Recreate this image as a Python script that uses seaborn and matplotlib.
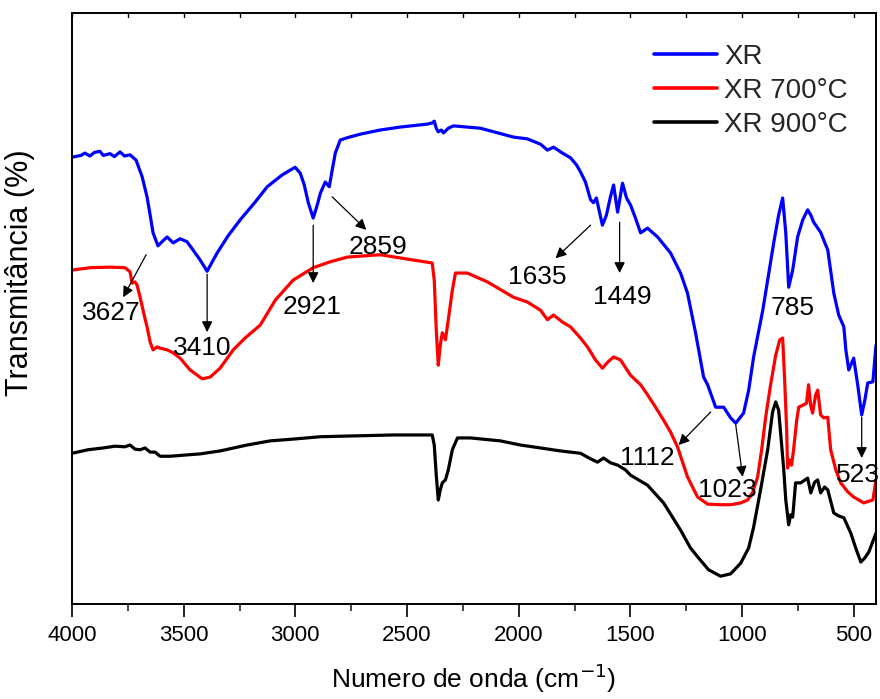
import matplotlib
matplotlib.use("Agg")
import matplotlib.pyplot as plt
import seaborn as sns
import pandas as pd
import numpy as np
from matplotlib.ticker import MultipleLocator

# FTIR spectra: wavenumber (cm-1) and transmittance (offset, arbitrary units)
xr_wn = [4000, 3960, 3942, 3920, 3900, 3875, 3860, 3830, 3810, 3785, 3765, 3740, 3713, 3686, 3664,
         3650, 3637, 3615, 3597, 3574, 3547, 3516, 3485, 3458, 3426, 3395, 3372, 3350, 3301,
         3247, 3180, 3126, 3059, 3001, 2978, 2960, 2942, 2920, 2902, 2888, 2866, 2848, 2835,
         2821, 2799, 2767, 2709, 2620, 2530, 2409, 2387, 2378, 2369, 2360, 2346, 2337, 2315,
         2292, 2171, 2023, 1961, 1902, 1871, 1844, 1804, 1768, 1741, 1723, 1701, 1678, 1665,
         1652, 1638, 1625, 1607, 1589, 1575, 1557, 1535, 1517, 1499, 1477, 1454, 1423, 1378,
         1320, 1275, 1244, 1208, 1172, 1154, 1118, 1082, 1051, 1028, 993, 970, 948, 907, 858,
         836, 818, 804, 791, 773, 751, 728, 706, 692, 679, 648, 616, 589, 567, 544, 535, 522,
         500, 482, 464, 450, 437, 414, 400]
xr_t = [75.6, 75.9, 76.3, 75.8, 76.4, 76.6, 75.9, 76.2, 75.7, 76.5, 75.8, 76.0, 75.1, 72.3, 68.9,
        65.8, 62.8, 60.6, 61.3, 62.1, 61.1, 61.8, 61.3, 59.9, 58.2, 56.3, 57.9, 59.4, 62.3,
        65.0, 68.0, 70.6, 72.6, 73.9, 72.9, 70.9, 67.9, 65.3, 67.5, 69.5, 71.4, 70.6, 73.4,
        76.3, 78.5, 78.9, 79.5, 80.2, 80.7, 81.2, 81.4, 81.7, 80.5, 79.9, 80.2, 79.7, 80.5,
        80.9, 80.5, 79.0, 78.7, 77.8, 76.8, 77.3, 76.3, 75.5, 74.3, 73.1, 71.4, 68.4, 67.9,
        68.7, 66.3, 64.1, 65.8, 68.9, 70.9, 66.3, 71.2, 68.7, 67.5, 65.3, 62.8, 63.6, 62.1,
        59.4, 56.0, 52.6, 45.9, 38.4, 37.1, 33.3, 33.3, 31.5, 30.6, 32.3, 36.2, 41.8, 49.7, 61.1,
        65.8, 68.7, 62.8, 53.6, 56.5, 62.1, 65.0, 66.7, 65.8, 64.6, 62.9, 59.9, 52.6, 48.9, 46.9,
        43.0, 39.6, 41.6, 37.1, 32.0, 34.5, 37.4, 37.6, 43.8]

xr700_wn = [4000, 3919, 3830, 3762, 3740, 3731, 3718, 3709, 3695, 3677, 3664, 3650, 3637, 3619,
            3606, 3574, 3547, 3516, 3471, 3417, 3381, 3337, 3278, 3225, 3157, 3090, 3010, 2920,
            2844, 2767, 2620, 2472, 2387, 2378, 2369, 2360, 2351, 2342, 2328, 2315, 2297, 2283,
            2230, 2140, 2023, 1961, 1902, 1871, 1844, 1804, 1768, 1723, 1692, 1656, 1625, 1602,
            1575, 1544, 1499, 1454, 1423, 1387, 1351, 1320, 1289, 1244, 1199, 1154, 1096, 1051,
            1006, 975, 952, 930, 912, 894, 872, 849, 831, 818, 809, 800, 796, 787, 778, 769, 755,
            746, 724, 711, 702, 693, 684, 670, 661, 648, 634, 616, 603, 580, 558, 527, 500, 477,
            455, 432, 414, 400]
xr700_t = [56.5, 56.9, 57.0, 56.9, 56.2, 54.3, 54.5, 54.0, 51.9, 48.9, 46.9, 44.3, 43.0, 43.5,
           43.3, 43.0, 42.5, 41.6, 39.6, 38.1, 38.4, 39.9, 43.0, 45.0, 47.2, 51.4, 54.8, 56.9,
           57.9, 58.7, 59.1, 58.2, 57.7, 54.8, 46.4, 40.4, 43.8, 45.9, 44.7, 48.1, 53.1, 56.0,
           56.0, 54.5, 51.9, 51.1, 49.7, 48.1, 48.9, 47.7, 46.9, 45.0, 43.5, 41.3, 39.9, 40.9,
           41.8, 41.3, 38.7, 37.1, 35.4, 33.3, 31.1, 29.1, 26.6, 21.5, 18.1, 16.9, 16.8, 16.8,
           17.1, 17.6, 18.9, 21.5, 26.1, 31.6, 37.1, 42.1, 44.7, 45.0, 37.9, 29.4, 23.0, 24.4,
           23.5, 26.1, 31.1, 33.3, 33.7, 34.0, 37.1, 33.7, 32.3, 35.4, 36.2, 32.0, 31.5, 31.6,
           26.1, 22.7, 20.5, 19.0, 18.1, 17.6, 17.1, 17.4, 17.6, 21.0]

xr900_wn = [4000, 3928, 3861, 3808, 3763, 3740, 3718, 3695, 3673, 3650, 3628, 3606, 3561, 3494,
            3426, 3337, 3216, 3113, 3010, 2889, 2785, 2561, 2387, 2378, 2369, 2360, 2351, 2342,
            2328, 2315, 2297, 2274, 2216, 2082, 1992, 1902, 1813, 1723, 1680, 1647, 1620, 1589,
            1557, 1522, 1499, 1423, 1351, 1275, 1231, 1199, 1150, 1096, 1051, 1006, 970, 948,
            917, 885, 863, 849, 836, 827, 813, 804, 791, 782, 773, 760, 737, 706, 692, 675, 661,
            648, 630, 616, 589, 567, 544, 513, 491, 468, 450, 432, 400]
xr900_t = [25.5, 26.1, 26.4, 26.7, 26.6, 26.9, 26.2, 26.1, 26.4, 25.7, 25.7, 25.0, 25.0, 25.2,
           25.4, 25.9, 26.9, 27.6, 27.9, 28.3, 28.4, 28.6, 28.6, 26.9, 21.8, 17.6, 19.3, 20.5,
           21.0, 22.7, 26.1, 28.1, 28.1, 27.6, 26.9, 26.4, 25.9, 25.5, 24.6, 24.0, 24.7, 23.9,
           23.5, 22.7, 21.8, 20.1, 17.1, 12.5, 9.5, 8.0, 5.8, 4.7, 5.1, 6.9, 9.5, 13.0,
           19.3, 26.1, 32.5, 34.2, 32.8, 28.9, 22.7, 17.6, 13.4, 15.1, 14.7, 20.5, 20.5, 21.3,
           18.8, 20.6, 21.0, 18.8, 19.8, 19.3, 15.4, 14.9, 14.6, 12.0, 9.5, 7.1, 7.8, 8.8, 12.0]

series_names = ["XR", "XR 700°C", "XR 900°C"]
series_colors = ["#0000ff", "#ff0000", "#000000"]

# Band labels: text, arrow tail (wn, T), arrow head (wn, T), label position (wn, T)
band_labels = ["3627", "3410", "2921", "2859", "1635", "1449", "785", "1112", "1023", "523"]
arrow_tails = [(3668, 59.1), (3395, 55.8), (2920, 64.1), (2835, 68.9), (1678, 64.1),
               (1548, 64.6), None, (1140, 32.5), (1028, 30.3), (464, 31.6)]
arrow_heads = [(3771, 51.9), (3395, 46.0), (2920, 54.3), (2682, 63.3), (1835, 58.5),
               (1548, 56.0), None, (1284, 26.9), (997, 21.5), (464, 24.7)]
label_pos = [(3825, 49.2), (3417, 43.3), (2924, 50.3), (2629, 60.4), (1916, 55.3),
             (1535, 51.9), (773, 50.1), (1423, 24.7), (1064, 19.3), (482, 21.8)]

frames = []
for name, wn, t in zip(series_names, [xr_wn, xr700_wn, xr900_wn], [xr_t, xr700_t, xr900_t]):
    frames.append(pd.DataFrame({"wn": wn, "T": t, "amostra": name}))
df = pd.concat(frames, ignore_index=True)

sns.set_theme(style="white")
plt.rcParams["font.family"] = ["Liberation Sans", "DejaVu Sans"]

fig = plt.figure(figsize=(8.8, 6.99), dpi=100)
ax = fig.add_axes([72 / 880, 1 - 604 / 699, (876 - 72) / 880, (604 - 13) / 699])

sns.lineplot(data=df, x="wn", y="T", hue="amostra", palette=series_colors,
             hue_order=series_names, estimator=None, sort=False, linewidth=2.3, ax=ax)

ax.set_xlim(4000, 400)
ax.set_ylim(0, 100)
ax.xaxis.set_major_locator(MultipleLocator(500))
ax.xaxis.set_minor_locator(MultipleLocator(250))
ax.set_yticks([])
ax.tick_params(axis="x", which="major", direction="out", length=9, width=1.2,
               labelsize=16, pad=6, bottom=True, top=False, colors="black")
ax.tick_params(axis="x", which="minor", direction="out", length=5, width=1.2, bottom=True, top=False)
for side in ["left", "right", "top", "bottom"]:
    ax.spines[side].set_visible(True)
    ax.spines[side].set_color("black")
    ax.spines[side].set_linewidth(1.4)

# small inward ticks along the top frame
for w in np.arange(4000, 399, -250):
    ax.plot([w, w], [100, 99.4], color="black", lw=1.0, clip_on=False)

ax.set_xlabel("Numero de onda (cm$^{-1}$)", fontsize=19, labelpad=11, color="black")
ax.set_ylabel("Transmitância (%)", fontsize=22, color="black")
ax.yaxis.set_label_coords(-0.046, 0.56)

for lab, tail, head, pos in zip(band_labels, arrow_tails, arrow_heads, label_pos):
    if tail is not None:
        ax.annotate("", xy=head, xytext=tail,
                    arrowprops=dict(arrowstyle="-|>", color="black", lw=0.9,
                                    mutation_scale=16, shrinkA=0, shrinkB=0))
    ax.text(pos[0], pos[1], lab, fontsize=19, ha="center", va="center", color="black")

leg = ax.legend(loc="upper left", bbox_to_anchor=((654 - 72) / 804, 1 - (44 - 13) / 591),
                frameon=False, fontsize=20, handlelength=2.25, handletextpad=0.28,
                labelspacing=0.28, borderpad=0, borderaxespad=0)
for line in leg.get_lines():
    line.set_linewidth(2.6)

fig.savefig("out.png", dpi=100)
